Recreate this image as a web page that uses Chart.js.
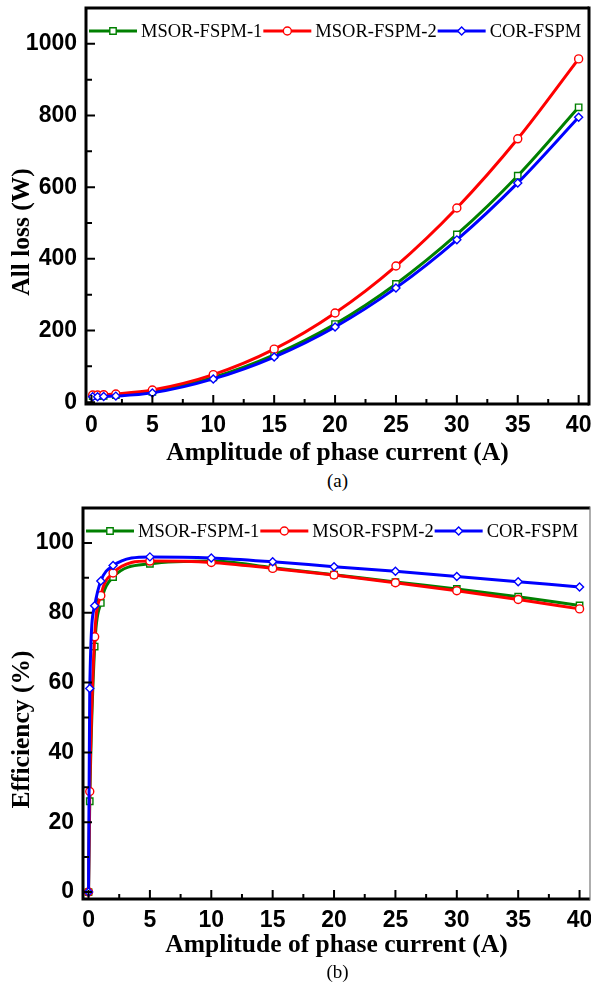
<!DOCTYPE html>
<html>
<head>
<meta charset="utf-8">
<script src="https://cdn.jsdelivr.net/npm/chart.js@4.4.1/dist/chart.umd.min.js"></script>
<style>
  body { margin: 0; background: #fff; }
  #page { position: relative; width: 591px; height: 984px; }
  canvas { position: absolute; left: 0; }
  .caption { position: absolute; left: 0; width: 675px; text-align: center;
             font-family: "Liberation Serif", serif; font-size: 19px; color: #000; }
</style>
</head>
<body>
<div id="page">
  <canvas id="lossChart" width="591" height="470" style="top:0"></canvas>
  <div class="caption" style="top:470px">(a)</div>
  <canvas id="effChart" width="591" height="470" style="top:492px"></canvas>
  <div class="caption" style="top:961px">(b)</div>
</div>
<script>
// ---- data ----
const seriesNames = ['MSOR-FSPM-1', 'MSOR-FSPM-2', 'COR-FSPM'];

// (a) total loss vs phase current
const currentA = [0.1, 0.5, 1, 2, 5, 10, 15, 20, 25, 30, 35, 40];
const lossMsor1 = [17, 17, 18, 20, 29, 69, 132, 218, 330, 468, 632, 823];
const lossMsor2 = [20, 20, 21, 23, 34, 77, 148, 249, 380, 542, 735, 958];
const lossCor   = [15, 15, 16, 17, 26, 65, 126, 210, 319, 453, 612, 795];

// (b) efficiency vs phase current
const currentB = [0, 0.1, 0.5, 1, 2, 5, 10, 15, 20, 25, 30, 35, 40];
const effMsor1 = [0, 26, 70.3, 82.8, 90.2, 94.0, 94.8, 92.9, 90.9, 88.8, 86.8, 84.6, 82.1];
const effMsor2 = [0, 28.8, 73.1, 84.9, 91.4, 94.8, 94.4, 92.7, 90.8, 88.6, 86.3, 83.8, 81.1];
const effCor   = [0, 58.3, 82.0, 89.1, 93.5, 96.0, 95.7, 94.6, 93.2, 91.9, 90.4, 88.9, 87.4];

const colors = ['#008000', '#ff0000', '#0000ff'];
const markers = ['rect', 'circle', 'rectRot'];

function makeSet(i, xs, ys) {
  return {
    label: seriesNames[i],
    data: xs.map((x, k) => ({ x: x, y: ys[k] })),
    borderColor: colors[i],
    backgroundColor: '#fff',
    borderWidth: 3,
    pointStyle: markers[i],
    pointRadius: markers[i] == 'rect' ? 4.5 : 4,
    pointBorderWidth: 1.4,
    pointBorderColor: colors[i],
    pointBackgroundColor: '#fff',
    cubicInterpolationMode: 'monotone',
    clip: 6,
    order: 3 - i
  };
}

// inward ticks + box frame + y title (sits a bit below the middle)
const frameTicks = {
  id: 'frameTicks',
  afterDraw(chart, args, opts) {
    const ctx = chart.ctx;
    const a = chart.chartArea;
    const x = chart.scales.x, y = chart.scales.y;
    ctx.save();
    ctx.strokeStyle = '#000';
    ctx.lineWidth = 2;
    ctx.beginPath();
    const xs = x.options.ticks.stepSize, ys = y.options.ticks.stepSize;
    x.ticks.forEach(t => {
      const px = x.getPixelForValue(t.value);
      ctx.moveTo(px, a.bottom); ctx.lineTo(px, a.bottom - 9);
      const m = t.value + xs / 2;
      if (m < x.max) {
        const pm = x.getPixelForValue(m);
        ctx.moveTo(pm, a.bottom); ctx.lineTo(pm, a.bottom - 5);
      }
    });
    y.ticks.forEach(t => {
      const py = y.getPixelForValue(t.value);
      ctx.moveTo(a.left, py); ctx.lineTo(a.left + 9, py);
      const m = t.value + ys / 2;
      if (m < y.max) {
        const pm = y.getPixelForValue(m);
        ctx.moveTo(a.left, pm); ctx.lineTo(a.left + 6, pm);
      }
    });
    ctx.stroke();

    // left, bottom, top
    ctx.lineWidth = 3;
    ctx.beginPath();
    ctx.moveTo(a.right, a.top); ctx.lineTo(a.left, a.top);
    ctx.lineTo(a.left, a.bottom); ctx.lineTo(a.right, a.bottom);
    ctx.stroke();
    // right side
    ctx.lineWidth = opts.rightWidth || 3;
    ctx.strokeStyle = opts.rightColor || '#000';
    ctx.beginPath();
    ctx.moveTo(a.right, a.top - 1.5); ctx.lineTo(a.right, a.bottom + 1.5);
    ctx.stroke();

    // y axis title
    const tf = y.options.title.font;
    ctx.translate(22, (a.top + a.bottom) / 2 + 26);
    ctx.rotate(-Math.PI / 2);
    ctx.font = 'bold ' + tf.size + 'px ' + tf.family;
    ctx.fillStyle = '#000';
    ctx.textAlign = 'center';
    ctx.textBaseline = 'middle';
    ctx.fillText(y.options.title.text, 0, 0);
    ctx.restore();
  }
};

// legend row: line sample with marker, then name
const lineLegend = {
  id: 'lineLegend',
  afterDraw(chart) {
    const ctx = chart.ctx;
    const a = chart.chartArea;
    let px = a.left + 3;
    const py = a.top + 23;
    ctx.save();
    ctx.font = '18.5px "Liberation Serif"';
    ctx.textBaseline = 'middle';
    chart.data.datasets.forEach(ds => {
      ctx.strokeStyle = ds.borderColor;
      ctx.lineWidth = 3;
      ctx.beginPath();
      ctx.moveTo(px, py); ctx.lineTo(px + 48, py);
      ctx.stroke();
      const cx = px + 24;
      ctx.fillStyle = '#fff';
      ctx.lineWidth = 1.4;
      ctx.beginPath();
      if (ds.pointStyle == 'circle') ctx.arc(cx, py, 4, 0, Math.PI * 2);
      else if (ds.pointStyle == 'rect') ctx.rect(cx - 3.2, py - 3.2, 6.4, 6.4);
      else { ctx.moveTo(cx, py - 4); ctx.lineTo(cx + 4, py); ctx.lineTo(cx, py + 4); ctx.lineTo(cx - 4, py); ctx.closePath(); }
      ctx.fill(); ctx.stroke();
      ctx.fillStyle = '#000';
      ctx.fillText(ds.label, px + 52, py + 1);
      px += 52 + ctx.measureText(ds.label).width + 1;
    });
    ctx.restore();
  }
};

const tickFont = { family: '"Liberation Sans", Arial', size: 23, weight: 'bold' };
const titleFont = { family: '"Liberation Serif", "Times New Roman"', size: 25.5, weight: 'bold' };

function makeChart(id, sets, yMin, yMax, yStep, yTitle, yWidth, xHeight, pad, rightOpts) {
  return new Chart(document.getElementById(id), {
    type: 'line',
    data: { datasets: sets },
    options: {
      responsive: false,
      animation: false,
      layout: { padding: pad, autoPadding: false },
      plugins: { legend: { display: false }, tooltip: { enabled: false }, frameTicks: rightOpts },
      scales: {
        x: {
          type: 'linear', min: -0.45, max: 40.85,
          border: { display: false },
          grid: { display: false, drawTicks: false },
          ticks: { stepSize: 5, includeBounds: false, color: '#000', font: tickFont, padding: 8, callback: v => '' + v },
          title: { display: true, text: 'Amplitude of phase current (A)', color: '#000', font: titleFont, padding: { top: 0, bottom: 1 } },
          afterFit: s => { s.height = xHeight; s.paddingLeft = 0; s.paddingRight = 0; }
        },
        y: {
          min: yMin, max: yMax,
          border: { display: false },
          grid: { display: false, drawTicks: false },
          ticks: { stepSize: yStep, includeBounds: false, color: '#000', font: tickFont, padding: 9, callback: v => '' + v },
          title: { display: false, text: yTitle, font: titleFont },
          afterFit: s => { s.width = yWidth; s.paddingTop = 0; s.paddingBottom = 0; }
        }
      }
    },
    plugins: [frameTicks, lineLegend]
  });
}

makeChart('lossChart',
  [makeSet(0, currentA, lossMsor1), makeSet(1, currentA, lossMsor2), makeSet(2, currentA, lossCor)],
  -5, 1100, 200, 'All loss (W)', 86, 66, { top: 8, right: 2, left: 0, bottom: 0 }, {});

makeChart('effChart',
  [makeSet(0, currentB, effMsor1), makeSet(1, currentB, effMsor2), makeSet(2, currentB, effCor)],
  -2, 110, 20, 'Efficiency (%)', 83, 63, { top: 16, right: 1, left: 0, bottom: 0 }, { rightWidth: 1.2, rightColor: '#777' });
</script>
</body>
</html>
